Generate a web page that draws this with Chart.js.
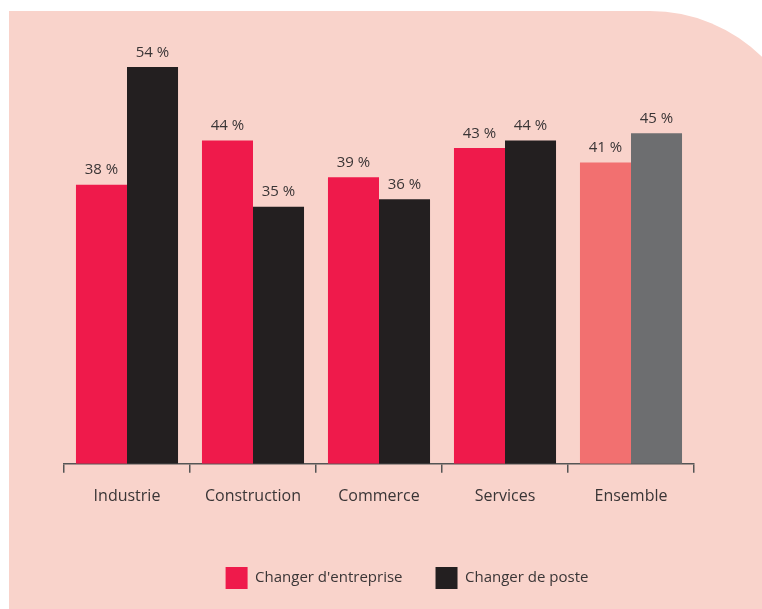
<!DOCTYPE html>
<html lang="fr">
<head>
<meta charset="utf-8">
<title>Changer d'entreprise / Changer de poste</title>
<script src="https://cdn.jsdelivr.net/npm/chart.js@4/dist/chart.umd.min.js"></script>
<style>
  html, body { margin: 0; padding: 0; background: #fff; overflow: hidden; }
  #panel {
    position: absolute; left: 9px; top: 11px; width: 801px; height: 620px;
    background: #f9d3cb; border-top-right-radius: 160px;
  }
  #chart { position: absolute; left: 0; top: 0; }
</style>
</head>
<body>
<div id="panel"></div>
<canvas id="chart" width="762" height="609"></canvas>
<script>
const categories = ['Industrie', 'Construction', 'Commerce', 'Services', 'Ensemble'];
const seriesNames = ["Changer d'entreprise", 'Changer de poste'];
const entreprise = [38, 44, 39, 43, 41];
const poste = [54, 35, 36, 44, 45];

const RED = '#ef1a4b', BLACK = '#231f20';
const RED_LIGHT = '#f27070', GREY = '#6d6e70';
const TEXT = '#3a3536';

// "NN %" above each bar
const valueLabels = {
    id: 'valueLabels',
    afterDatasetsDraw(chart) {
        const ctx = chart.ctx;
        ctx.save();
        ctx.font = '15px "Open Sans"';
        ctx.fillStyle = TEXT;
        ctx.textAlign = 'center';
        ctx.textBaseline = 'bottom';
        chart.data.datasets.forEach((ds, i) => {
            chart.getDatasetMeta(i).data.forEach((bar, j) => {
                ctx.fillText(ds.data[j] + ' %', bar.x, bar.y - 7);
            });
        });
        ctx.restore();
    }
};

const ctx = document.getElementById('chart').getContext('2d');
const chart = new Chart(ctx, {
    type: 'bar',
    data: {
        labels: categories,
        datasets: [{
            label: seriesNames[0],
            data: entreprise,
            backgroundColor: [RED, RED, RED, RED, RED_LIGHT],
            legendColor: RED
        }, {
            label: seriesNames[1],
            data: poste,
            backgroundColor: [BLACK, BLACK, BLACK, BLACK, GREY],
            legendColor: BLACK
        }]
    },
    options: {
        responsive: false,
        maintainAspectRatio: false,
        animation: false,
        devicePixelRatio: 1,
        layout: { padding: { left: 64, right: 12, top: 23, bottom: 10 } },
        datasets: {
            bar: { categoryPercentage: 0.81, barPercentage: 1 }
        },
        scales: {
            x: {
                grid: {
                    display: true, offset: true, drawOnChartArea: false,
                    drawTicks: true, tickLength: 9, color: '#555', lineWidth: 1.5
                },
                border: { display: true, color: '#555', width: 1.5 },
                ticks: {
                    color: TEXT, padding: 14,
                    font: { family: '"Open Sans"', size: 16 }
                },
                afterFit(scale) { scale.height += 14; }
            },
            y: {
                position: 'right',
                min: 0, max: 60,
                grid: { display: false },
                border: { display: false },
                ticks: { display: false },
                afterFit(scale) { scale.width = 56; }
            }
        },
        plugins: {
            tooltip: { enabled: false },
            legend: {
                position: 'bottom',
                labels: {
                    boxWidth: 22, boxHeight: 22, padding: 33,
                    color: TEXT,
                    font: { family: '"Open Sans"', size: 15 },
                    generateLabels(c) {
                        return c.data.datasets.map((ds, i) => ({
                            text: ds.label,
                            fillStyle: ds.legendColor,
                            strokeStyle: ds.legendColor,
                            lineWidth: 0,
                            fontColor: TEXT,
                            datasetIndex: i
                        }));
                    }
                }
            }
        }
    },
    plugins: [valueLabels]
});
</script>
</body>
</html>
